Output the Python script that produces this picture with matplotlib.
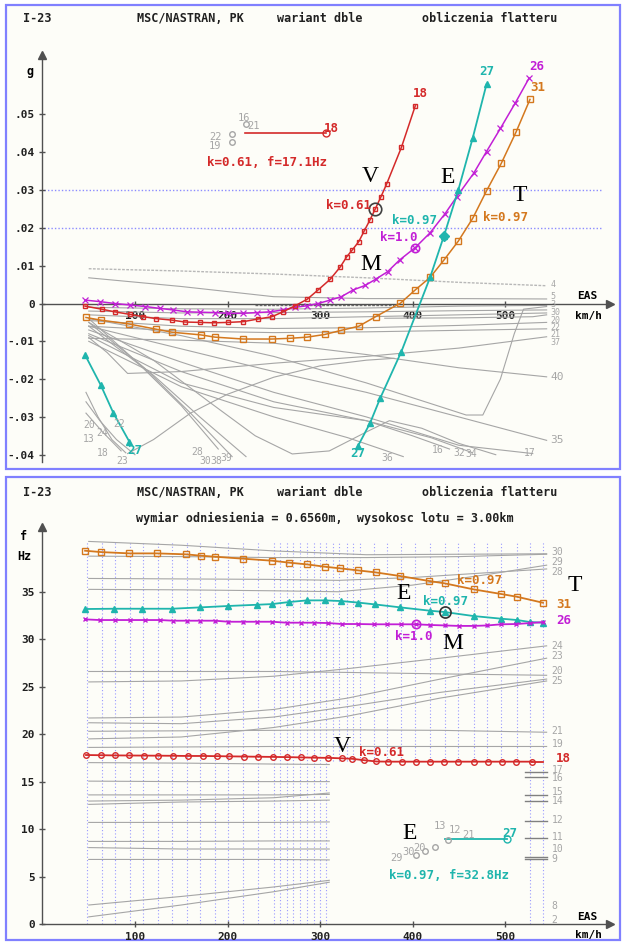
import matplotlib
matplotlib.use('Agg')
import matplotlib.pyplot as plt
from matplotlib.patches import Rectangle

W, H = 624, 944
MONO = 'DejaVu Sans Mono'
SERIF = 'Liberation Serif'

RED = '#d42a2a'
ORG = '#d4781e'
CYA = '#1fb5ad'
MAG = '#c21fd6'
GRY = '#a6a6a6'
BLUE = '#8080ff'

# ---------------- gorny wykres: tlumienie g(V) ----------------
red_v = [46, 64, 78, 95, 109, 123, 140, 154, 170, 185, 201, 217, 233, 248, 260,
         273, 286, 298, 311, 322, 329, 335, 342, 348, 354, 359.5, 366, 372, 388, 403]
red_g = [-.0007, -.0015, -.0022, -.0029, -.0035, -.0040, -.0044, -.0049, -.0050, -.0051,
         -.0050, -.0048, -.0041, -.0035, -.0022, -.0006, .0011, .0036, .0064, .0097,
         .0124, .0142, .0164, .0193, .0221, .0249, .0283, .0316, .0413, .0523]

mag_v = [46, 62, 78, 95, 111, 127, 141, 156, 170, 186, 201, 217, 232, 246, 260, 273, 286,
         298, 311, 323, 336, 349, 360, 373, 386, 403, 419, 435, 448, 466, 480, 495, 511, 526]
mag_g = [.0009, .0005, 0, -.0004, -.0008, -.0013, -.0017, -.0022, -.0023, -.0024,
         -.0026, -.0026, -.0024, -.0022, -.0017, -.0010, -.0006, 0, .0009, .0018,
         .0036, .0048, .0064, .0084, .0115, .0148, .0187, .0237, .0283, .0344,
         .0402, .0463, .0530, .0596]

org_v = [47, 63, 93, 123, 140, 171, 186.5, 217, 248, 268, 286, 305, 323, 342, 360,
         387, 403, 419, 434, 449.5, 465, 480, 496, 512, 527]
org_g = [-.0037, -.0044, -.0054, -.0068, -.0076, -.0083, -.0089, -.0094, -.0094, -.0092,
         -.0089, -.0082, -.0071, -.0060, -.0035, .0001, .0036, .0069, .0115, .0165,
         .0225, .0298, .0371, .0454, .0540]

cya1_v = [46, 63, 76.5, 94]
cya1_g = [-.0136, -.0216, -.0289, -.0366]
cya2_v = [341, 354, 365, 388, 419, 434, 449.5, 465, 480]
cya2_g = [-.0377, -.0317, -.0251, -.0127, .0069, .0179, .0300, .0437, .0580]

# szare mody (wspolna siatka predkosci)
fan_v = [50, 150, 250, 350, 450, 545]
fan_g = [
    [.0068, .0045, .0018, .0013, .0013, .0012],
    [-.0010, -.0014, -.0015, -.0012, -.0007, -.0005],
    [-.0020, -.0025, -.0024, -.0022, -.0019, -.0017],
    [-.0030, -.0040, -.0040, -.0035, -.0030, -.0025],
    [-.0045, -.0060, -.0066, -.0064, -.0058, -.0050],
    [-.0060, -.0073, -.0077, -.0075, -.0071, -.0067],
    [-.0092, -.0097, -.0105, -.0135, -.0170, -.0194],
    [-.0060, -.0120, -.0180, -.0235, -.0300, -.0362],
]
mode4_g = [.0092, .0086, .0078, .0068, .0056, .0047]

top_lines_v = [
    [50, 70, 92, 150, 250, 350, 450, 545],
    [50, 150, 250, 350, 420, 458, 476, 495, 510, 520, 545],
    [50, 150, 250, 350, 450, 530],
    [50, 150, 250, 350, 400, 440],
    [50, 150, 250, 350, 420, 465],
    [50, 150, 250, 330, 390],
    [50, 120, 180, 230, 270, 310, 350, 375, 410, 450, 490],
    [92, 120, 160, 200, 250, 300, 350, 380],
    [50, 100, 150, 190],
    [50, 110, 160, 205],
    [50, 120, 170, 220],
    [47, 60, 75, 90],
    [47, 62, 80, 100],
    [47, 65, 85],
    [370, 450, 530, 545],
]
top_lines_g = [
    [-.009, -.013, -.0185, -.018, -.0158, -.0140, -.0118, -.0088],
    [-.004, -.0085, -.014, -.021, -.0265, -.0295, -.0295, -.020, -.008, -.0015, -.0008],
    [-.007, -.0155, -.0235, -.030, -.0375, -.0397],
    [-.008, -.018, -.026, -.031, -.035, -.0385],
    [-.0085, -.021, -.0275, -.031, -.0355, -.0395],
    [-.010, -.022, -.030, -.0355, -.0405],
    [-.005, -.015, -.026, -.035, -.0398, -.039, -.034, -.031, -.033, -.037, -.040],
    [-.0397, -.036, -.029, -.024, -.0195, -.0165, -.015, -.0145],
    [-.004, -.015, -.027, -.0385],
    [-.005, -.017, -.029, -.0405],
    [-.006, -.019, -.030, -.0405],
    [-.0235, -.030, -.036, -.0395],
    [-.026, -.031, -.036, -.040],
    [-.029, -.034, -.039],
    [-.0039, -.0038, -.0035, -.0030],
]
zero_v = [230, 300, 380]
zero_g = [-.0003, -.0003, -.0003]

top_labels = [("20", 51, -.0321), ("22", 83, -.0319), ("13", 50, -.0358), ("24", 65, -.0343),
              ("18", 65, -.0395), ("23", 86, -.0416), ("28", 167, -.0392), ("30", 176, -.0416),
              ("38", 188, -.0416), ("39", 199, -.0408), ("36", 373, -.0409), ("16", 427, -.0388),
              ("32", 451, -.0396), ("34", 463, -.0399), ("17", 527, -.0396)]
top_right_labels = [("4", .0050), ("5", .0018), ("3", -.0003), ("30", -.0024), ("20", -.0044),
                    ("22", -.0063), ("21", -.0082), ("37", -.0103)]
top_far_labels = [("40", -.0194), ("35", -.0361)]
legend_top_txt = [("16", 217.6, .0490), ("21", 228.4, .0470), ("22", 186.5, .0441), ("19", 186.5, .0417)]
legend_top_v = [205, 205, 220]
legend_top_g = [.0448, .0428, .0475]
legend_red_v = [219, 307]
legend_red_g = [.0452, .0452]

# ---------------- dolny wykres: czestotliwosc f(V) ----------------
org_f_v = [46, 63, 94, 124, 155, 171, 186.5, 217, 248, 267, 286, 305, 322, 341, 360,
           387, 418, 435, 466, 496, 513, 541]
org_f = [39.32, 39.18, 39.04, 39.04, 38.94, 38.80, 38.69, 38.48, 38.27, 38.06, 37.88,
         37.64, 37.46, 37.25, 37.04, 36.65, 36.13, 35.88, 35.25, 34.76, 34.47, 33.84]

cya_f_v = [46, 77, 108, 140, 170, 201, 232, 248, 267, 286, 305, 323, 341, 359, 387,
           419, 435, 466, 496, 513, 527, 541]
cya_f = [33.18, 33.21, 33.21, 33.21, 33.35, 33.50, 33.63, 33.70, 33.92, 34.09, 34.09,
         34.02, 33.86, 33.67, 33.35, 33.00, 32.86, 32.44, 32.16, 32.02, 31.81, 31.74]

mag_f_v = [46, 62, 78, 95, 111, 127, 141, 156, 170, 186, 201, 217, 232, 248, 264, 279, 294,
           309, 324, 341, 358, 372, 388, 404, 419, 435, 450, 466, 481, 496, 512, 527, 541]
mag_f = [32.09, 32.02, 32.02, 32.02, 32.02, 32.02, 31.95, 31.95, 31.95, 31.95, 31.84,
         31.84, 31.84, 31.84, 31.74, 31.74, 31.74, 31.70, 31.60, 31.60, 31.57, 31.57,
         31.57, 31.57, 31.50, 31.45, 31.40, 31.40, 31.45, 31.57, 31.60, 31.70, 31.80]

red_f_v = [47, 63, 78, 94, 110, 125, 141, 157, 173, 189, 202, 218, 233, 249, 264, 279, 294,
           309, 324, 335, 348, 361, 374, 389, 404, 419, 434, 449, 467, 482, 497, 512, 529]
red_f = [17.80, 17.78, 17.76, 17.75, 17.74, 17.73, 17.72, 17.70, 17.70, 17.68, 17.66,
         17.64, 17.62, 17.60, 17.58, 17.55, 17.52, 17.50, 17.45, 17.40, 17.25, 17.12,
         17.10, 17.10, 17.10, 17.10, 17.10, 17.10, 17.10, 17.10, 17.10, 17.10, 17.10]

hi_v = [50, 150, 250, 350, 450, 545]
hi_f = [[40.3, 39.9, 39.3, 38.9, 38.95, 39.0],
        [38.75, 38.7, 38.6, 38.6, 38.7, 38.95]]
t28_v = [50, 150, 250, 320, 400, 480, 545]
t28_f = [[36.4, 36.35, 36.3, 36.2, 36.5, 37.0, 37.4],
         [35.25, 35.2, 35.1, 35.0, 35.7, 36.8, 37.8]]
mid_v = [50, 150, 250, 330, 430, 545]
mid_f = [[25.5, 25.6, 26.1, 26.9, 28.0, 29.3],
         [26.6, 26.6, 26.6, 26.5, 26.35, 26.2],
         [21.7, 21.8, 22.6, 23.8, 25.8, 28.0],
         [21.2, 21.1, 21.8, 22.9, 24.4, 25.8],
         [19.5, 19.7, 20.7, 21.9, 23.8, 25.6],
         [20.3, 20.35, 20.4, 20.45, 20.4, 20.2],
         [18.6, 18.65, 18.7, 18.7, 18.7, 18.7]]
low_v = [50, 150, 250, 310]
low_f = [[17.0, 16.95, 16.85, 16.8], [15.05, 15.0, 15.0, 15.0], [13.6, 13.6, 13.6, 13.65],
         [12.95, 13.05, 13.3, 13.8], [12.6, 12.85, 12.95, 13.05], [10.7, 10.7, 10.7, 10.75],
         [8.7, 8.7, 8.75, 8.75], [8.05, 7.9, 7.9, 7.9], [6.8, 6.8, 6.8, 6.75],
         [2.0, 2.9, 3.9, 4.6], [0.75, 2.0, 3.4, 4.4]]
stub_v = [522, 545]
stub_f = [16.05, 15.5, 13.6, 12.95, 10.8, 9.1, 7.1, 6.8]

grid_full_v = [48, 64, 78, 95, 109, 125, 140, 156, 170, 186, 201, 217, 233, 250, 257,
               264, 271, 278, 286, 293, 300, 307, 527, 541]
grid_upper_v = [314, 321, 329, 336, 343, 358, 372, 388, 403, 419, 435, 449, 466, 480, 496, 513]

bot_right_labels = [("30", 39.2), ("29", 38.1), ("28", 37.1), ("24", 29.3), ("23", 28.2),
                    ("20", 26.7), ("25", 25.6), ("21", 20.3), ("19", 19.0), ("17", 16.25),
                    ("16", 15.35), ("15", 13.95), ("14", 13.0), ("12", 11.0), ("11", 9.15),
                    ("10", 7.95), ("9", 6.85), ("8", 1.85), ("2", 0.4)]
legend_bot_txt = [("29", 383, 6.9), ("30", 396, 7.6), ("20", 408, 8.0), ("13", 430, 10.3),
                  ("12", 446, 9.9), ("21", 461, 9.4)]
legend_bot_v = [404, 414, 424, 438]
legend_bot_f = [7.3, 7.7, 8.1, 8.9]
legend_cya_v = [435, 502]
legend_cya_f = [8.92, 8.92]


def fx(px):
    return px / W


def fy(py):
    return 1 - py / H


fig = plt.figure(figsize=(6.24, 9.44), dpi=100)
fig.patch.set_facecolor('white')

for x0, y0, x1, y1 in [(6, 5, 620, 469), (6, 477, 620, 940)]:
    fig.add_artist(Rectangle((fx(x0), fy(y1)), fx(x1) - fx(x0), fy(y0) - fy(y1),
                             transform=fig.transFigure, facecolor='#fdfdf8',
                             edgecolor=BLUE, lw=1.6, zorder=-5))


def make_axes(top, bottom, ylo, yhi, yticks, ylabels, ybound):
    ax = fig.add_axes([fx(42.5), fy(bottom), fx(610) - fx(42.5), fy(top) - fy(bottom)])
    ax.set_facecolor('none')
    ax.set_xlim(0, 613.5)
    ax.set_ylim(ylo, yhi)
    ax.spines[['top', 'right']].set_visible(False)
    ax.spines['bottom'].set_position(('data', 0))
    ax.spines['left'].set_bounds(ybound, yhi)
    for s in ('left', 'bottom'):
        ax.spines[s].set_color('#505050')
        ax.spines[s].set_linewidth(1.0)
    ax.plot(1, 0, '>', color='#505050', ms=6, transform=ax.get_yaxis_transform(), clip_on=False)
    ax.plot(0, 1, '^', color='#505050', ms=6, transform=ax.get_xaxis_transform(), clip_on=False)
    ax.set_xticks([100, 200, 300, 400, 500])
    ax.set_xticklabels(['100', '200', '300', '400', '500'])
    ax.set_yticks(yticks)
    ax.set_yticklabels(ylabels)
    ax.tick_params(direction='inout', length=5, width=1, color='#505050', pad=3,
                   labelsize=8, labelcolor='#202020')
    for t in ax.get_xticklabels() + ax.get_yticklabels():
        t.set_family(MONO)
        t.set_weight('bold')
    return ax


def header(py):
    kw = dict(family=MONO, weight='bold', fontsize=8.5, color='#202020', va='center')
    fig.text(fx(37), fy(py), 'I-23', ha='center', **kw)
    fig.text(fx(190), fy(py), 'MSC/NASTRAN, PK', ha='center', **kw)
    fig.text(fx(320), fy(py), 'wariant dble', ha='center', **kw)
    fig.text(fx(490), fy(py), 'obliczenia flatteru', ha='center', **kw)


def mono(ax, x, y, s, color, size=9, ha='center', weight='bold'):
    ax.text(x, y, s, color=color, fontsize=size, family=MONO, weight=weight,
            ha=ha, va='center', zorder=6)


def big(ax, x, y, s):
    ax.text(x, y, s, fontsize=17, family=SERIF, color='black', ha='center', va='center', zorder=6)


# ================= gorny =================
header(19)
ax1 = make_axes(55, 462, -0.04193, 0.06574,
                [.05, .04, .03, .02, .01, 0, -.01, -.02, -.03, -.04],
                ['.05', '.04', '.03', '.02', '.01', '0', '-.01', '-.02', '-.03', '-.04'],
                -0.04193)
fig.text(fx(30), fy(71), 'g', family=MONO, weight='bold', fontsize=8.5, ha='center', va='center')
fig.text(fx(587), fy(296), 'EAS', family=MONO, weight='bold', fontsize=8, ha='center', va='center')
fig.text(fx(589), fy(316), 'km/h', family=MONO, weight='bold', fontsize=8, ha='center', va='center')

ax1.hlines([.03, .02], 2, 604, colors='#8c8cff', linestyles=(0, (1, 1.5)), lw=1.0, zorder=1)

ax1.plot(fan_v, mode4_g, color='#b8b8b8', lw=1.0, ls=(0, (2, 1)), zorder=2)
for g in fan_g:
    ax1.plot(fan_v, g, color=GRY, lw=0.8, zorder=2)
for v, g in zip(top_lines_v, top_lines_g):
    ax1.plot(v, g, color=GRY, lw=0.8, zorder=2, clip_on=False)
ax1.plot(zero_v, zero_g, color='#707070', lw=1.0, ls=(0, (2, 1)), zorder=2)

for s, v, g in top_labels:
    mono(ax1, v, g, s, GRY, size=7, weight='normal')
for s, g in top_right_labels:
    mono(ax1, 549, g, s, GRY, size=6, ha='left', weight='normal')
for s, g in top_far_labels:
    mono(ax1, 549, g, s, GRY, size=8, ha='left', weight='normal')

ax1.plot(org_v, org_g, color=ORG, lw=1.1, marker='s', ms=5, mfc='none', mew=1.0, zorder=4)
ax1.plot(mag_v, mag_g, color=MAG, lw=1.1, marker='x', ms=4, mew=0.9, zorder=4)
ax1.plot(red_v, red_g, color=RED, lw=1.1, marker='s', ms=3.5, mfc='none', mew=1.0, zorder=5)
ax1.plot(cya1_v, cya1_g, color=CYA, lw=1.3, marker='^', ms=4, zorder=4)
ax1.plot(cya2_v, cya2_g, color=CYA, lw=1.3, marker='^', ms=4, zorder=4)
ax1.plot(red_v[25], red_g[25], 'o', ms=9, mfc='none', mec='#404040', mew=1.2, zorder=6)
ax1.plot(mag_v[25], mag_g[25], 'o', ms=6, mfc='none', mec=MAG, mew=1.2, zorder=6)
ax1.plot(cya2_v[5], cya2_g[5], 'D', ms=5, color=CYA, zorder=6)

ax1.plot(legend_red_v, legend_red_g, color=RED, lw=1.2, zorder=4)
ax1.plot(legend_red_v[-1], legend_red_g[-1], 'o', ms=5, mfc='none', mec=RED, zorder=5)
ax1.plot(legend_top_v, legend_top_g, 'o', ms=4, mfc='none', mec=GRY, ls='none', zorder=4)
for s, v, g in legend_top_txt:
    mono(ax1, v, g, s, GRY, size=7.5, weight='normal')
mono(ax1, 312, .0464, '18', RED)
mono(ax1, 242.7, .0374, 'k=0.61, f=17.1Hz', RED)

mono(ax1, 409, .0556, '18', RED)
mono(ax1, 480, .0613, '27', CYA)
mono(ax1, 534, .0628, '26', MAG)
mono(ax1, 535, .0572, '31', ORG)
mono(ax1, 100, -.0388, '27', CYA)
mono(ax1, 341, -.0396, '27', CYA)

mono(ax1, 331, .0259, 'k=0.61', RED)
mono(ax1, 402.5, .0219, 'k=0.97', CYA)
mono(ax1, 385.4, .0175, 'k=1.0', MAG)
mono(ax1, 501, .0228, 'k=0.97', ORG)
big(ax1, 354.6, .0335, 'V')
big(ax1, 438.4, .0333, 'E')
big(ax1, 516, .0285, 'T')
big(ax1, 354.6, .0104, 'M')

# ================= dolny =================
header(492)
fig.text(fx(325), fy(518), 'wymiar odniesienia = 0.6560m,  wysokosc lotu = 3.00km',
         family=MONO, weight='bold', fontsize=8.5, ha='center', va='center', color='#202020')
ax2 = make_axes(527, 935, -1.159, 41.82, [0, 5, 10, 15, 20, 25, 30, 35],
                ['0', '5', '10', '15', '20', '25', '30', '35'], 0)
fig.text(fx(24), fy(536), 'f', family=MONO, weight='bold', fontsize=8.5, ha='center', va='center')
fig.text(fx(24), fy(556), 'Hz', family=MONO, weight='bold', fontsize=8.5, ha='center', va='center')
fig.text(fx(587), fy(917), 'EAS', family=MONO, weight='bold', fontsize=8, ha='center', va='center')
fig.text(fx(589), fy(935), 'km/h', family=MONO, weight='bold', fontsize=8, ha='center', va='center')

ax2.vlines(grid_full_v, 0, 40.2, colors='#9a9aff', linestyles=(0, (1, 2)), lw=0.8, zorder=1)
ax2.vlines(grid_upper_v, 17.2, 40.2, colors='#9a9aff', linestyles=(0, (1, 2)), lw=0.8, zorder=1)

for f in hi_f:
    ax2.plot(hi_v, f, color=GRY, lw=0.8, zorder=2)
for f in t28_f:
    ax2.plot(t28_v, f, color=GRY, lw=0.8, zorder=2)
for f in mid_f:
    ax2.plot(mid_v, f, color=GRY, lw=0.8, zorder=2)
for f in low_f:
    ax2.plot(low_v, f, color=GRY, lw=0.8, zorder=2)
for f in stub_f:
    ax2.plot(stub_v, [f, f], color='#808080', lw=1.0, zorder=2)
for s, f in bot_right_labels:
    mono(ax2, 550.5, f, s, GRY, size=7, ha='left', weight='normal')

ax2.plot(org_f_v, org_f, color=ORG, lw=1.3, marker='s', ms=5, mfc='none', mew=1.0, zorder=4)
ax2.plot(cya_f_v, cya_f, color=CYA, lw=1.3, marker='^', ms=4, zorder=4)
ax2.plot(mag_f_v, mag_f, color=MAG, lw=1.3, marker='x', ms=3.5, mew=1.0, zorder=4)
ax2.plot(red_f_v, red_f, color=RED, lw=1.3, marker='o', ms=4, mfc='none', mew=1.0, zorder=4)
ax2.plot([red_f_v[-1], 541], [red_f[-1], red_f[-1]], color=RED, lw=1.3, zorder=4)
ax2.plot(cya_f_v[16], cya_f[16], 'o', ms=8, mfc='none', mec='#303030', mew=1.2, zorder=6)
ax2.plot(mag_f_v[23], mag_f[23], 'o', ms=6, mfc='none', mec=MAG, mew=1.2, zorder=6)

mono(ax2, 563, 33.7, '31', ORG, ha='center')
mono(ax2, 563, 32.0, '26', MAG, ha='center')
mono(ax2, 563, 17.4, '18', RED, ha='center')

mono(ax2, 472, 36.16, 'k=0.97', ORG)
mono(ax2, 435.7, 34.02, 'k=0.97', CYA)
mono(ax2, 401.6, 30.26, 'k=1.0', MAG)
mono(ax2, 366.5, 18.04, 'k=0.61', RED)
big(ax2, 575.7, 35.7, 'T')
big(ax2, 390.8, 34.83, 'E')
big(ax2, 443.5, 29.57, 'M')
big(ax2, 324.4, 18.68, 'V')

big(ax2, 397.3, 9.58, 'E')
ax2.plot(legend_cya_v, legend_cya_f, color=CYA, lw=1.3, zorder=4)
ax2.plot(legend_cya_v[-1], legend_cya_f[-1], 'o', ms=5, mfc='none', mec=CYA, zorder=5)
ax2.plot(legend_bot_v, legend_bot_f, 'o', ms=4, mfc='none', mec=GRY, ls='none', zorder=4)
for s, v, f in legend_bot_txt:
    mono(ax2, v, f, s, GRY, size=7.5, weight='normal')
mono(ax2, 505, 9.5, '27', CYA)
mono(ax2, 439.5, 5.06, 'k=0.97, f=32.8Hz', CYA)

fig.savefig('out.png', dpi=100, facecolor='white')
